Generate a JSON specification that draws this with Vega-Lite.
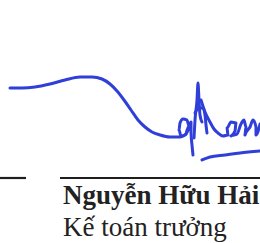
{
  "$schema": "https://vega.github.io/schema/vega-lite/v6.json",
  "width": 260,
  "height": 243,
  "padding": 0,
  "autosize": {"type": "none"},
  "background": "white",
  "config": {"view": {"stroke": null}},
  "datasets": {
    "sig": [
      {"s": "A", "i": 0, "x": 10, "y": 88}, {"s": "A", "i": 1, "x": 22, "y": 88}, {"s": "A", "i": 2, "x": 35, "y": 87},
      {"s": "A", "i": 3, "x": 50, "y": 84}, {"s": "A", "i": 4, "x": 65, "y": 80}, {"s": "A", "i": 5, "x": 80, "y": 77},
      {"s": "A", "i": 6, "x": 92, "y": 77}, {"s": "A", "i": 7, "x": 102, "y": 79}, {"s": "A", "i": 8, "x": 110, "y": 84},
      {"s": "A", "i": 9, "x": 117, "y": 91}, {"s": "A", "i": 10, "x": 124, "y": 100}, {"s": "A", "i": 11, "x": 131, "y": 110},
      {"s": "A", "i": 12, "x": 138, "y": 120}, {"s": "A", "i": 13, "x": 145, "y": 127}, {"s": "A", "i": 14, "x": 152, "y": 132},
      {"s": "A", "i": 15, "x": 160, "y": 135}, {"s": "A", "i": 16, "x": 170, "y": 137}, {"s": "A", "i": 17, "x": 180, "y": 137},
      {"s": "A", "i": 18, "x": 186, "y": 134},
      {"s": "B", "i": 0, "x": 186, "y": 134}, {"s": "B", "i": 1, "x": 189, "y": 126}, {"s": "B", "i": 2, "x": 187, "y": 120},
      {"s": "B", "i": 3, "x": 183, "y": 119}, {"s": "B", "i": 4, "x": 180, "y": 123}, {"s": "B", "i": 5, "x": 179, "y": 130},
      {"s": "B", "i": 6, "x": 181, "y": 136}, {"s": "B", "i": 7, "x": 185, "y": 135}, {"s": "B", "i": 8, "x": 189, "y": 128},
      {"s": "B", "i": 9, "x": 191, "y": 122}, {"s": "B", "i": 10, "x": 191, "y": 132}, {"s": "B", "i": 11, "x": 192, "y": 145},
      {"s": "B", "i": 12, "x": 193, "y": 155},
      {"s": "C", "i": 0, "x": 194, "y": 138}, {"s": "C", "i": 1, "x": 195, "y": 120}, {"s": "C", "i": 2, "x": 197, "y": 100},
      {"s": "C", "i": 3, "x": 198, "y": 83}, {"s": "C", "i": 4, "x": 199, "y": 100}, {"s": "C", "i": 5, "x": 200, "y": 115},
      {"s": "C", "i": 6, "x": 202, "y": 122},
      {"s": "D", "i": 0, "x": 195, "y": 113}, {"s": "D", "i": 1, "x": 199, "y": 108}, {"s": "D", "i": 2, "x": 203, "y": 108},
      {"s": "D", "i": 3, "x": 205, "y": 115}, {"s": "D", "i": 4, "x": 206, "y": 125}, {"s": "D", "i": 5, "x": 207, "y": 133},
      {"s": "E", "i": 0, "x": 201, "y": 100}, {"s": "E", "i": 1, "x": 205, "y": 112}, {"s": "E", "i": 2, "x": 210, "y": 122},
      {"s": "E", "i": 3, "x": 214, "y": 129}, {"s": "E", "i": 4, "x": 218, "y": 133}, {"s": "E", "i": 5, "x": 223, "y": 136},
      {"s": "E", "i": 6, "x": 228, "y": 135}, {"s": "E", "i": 7, "x": 227, "y": 128}, {"s": "E", "i": 8, "x": 231, "y": 122},
      {"s": "E", "i": 9, "x": 236, "y": 123}, {"s": "E", "i": 10, "x": 235, "y": 131}, {"s": "E", "i": 11, "x": 231, "y": 136},
      {"s": "E", "i": 12, "x": 237, "y": 134}, {"s": "E", "i": 13, "x": 241, "y": 124}, {"s": "E", "i": 14, "x": 244, "y": 120},
      {"s": "E", "i": 15, "x": 246, "y": 127}, {"s": "E", "i": 16, "x": 245, "y": 135}, {"s": "E", "i": 17, "x": 250, "y": 127},
      {"s": "E", "i": 18, "x": 253, "y": 120}, {"s": "E", "i": 19, "x": 256, "y": 127}, {"s": "E", "i": 20, "x": 256, "y": 135},
      {"s": "E", "i": 21, "x": 260, "y": 124},
      {"s": "F", "i": 0, "x": 202, "y": 160}, {"s": "F", "i": 1, "x": 210, "y": 157}, {"s": "F", "i": 2, "x": 225, "y": 155},
      {"s": "F", "i": 3, "x": 240, "y": 153}, {"s": "F", "i": 4, "x": 260, "y": 151}
    ],
    "rules": [
      {"x": 0, "x2": 26, "y": 178},
      {"x": 60, "x2": 262, "y": 178}
    ],
    "labels": [
      {"t": "Nguyễn Hữu Hải", "x": 63, "y": 204, "w": "name"},
      {"t": "Kế toán trưởng", "x": 63, "y": 236, "w": "title"}
    ]
  },
  "layer": [
    {
      "data": {"name": "sig"},
      "mark": {"type": "line", "color": "#2f3fd8", "strokeWidth": 3, "interpolate": "monotone", "strokeCap": "round", "strokeJoin": "round"},
      "encoding": {
        "x": {"field": "x", "type": "quantitative", "scale": {"domain": [0, 260], "nice": false, "zero": false}, "axis": null},
        "y": {"field": "y", "type": "quantitative", "scale": {"domain": [0, 243], "nice": false, "zero": false, "reverse": true}, "axis": null},
        "detail": {"field": "s"},
        "order": {"field": "i", "type": "quantitative"}
      }
    },
    {
      "data": {"name": "rules"},
      "mark": {"type": "rule", "color": "#1e1e1e", "strokeWidth": 2.2},
      "encoding": {
        "x": {"field": "x", "type": "quantitative"},
        "x2": {"field": "x2"},
        "y": {"field": "y", "type": "quantitative"}
      }
    },
    {
      "data": {"name": "labels"},
      "transform": [{"filter": "datum.w === 'name'"}],
      "mark": {"type": "text", "font": "Liberation Serif", "fontWeight": "bold", "fontSize": 27, "align": "left", "baseline": "alphabetic", "color": "#222222"},
      "encoding": {
        "x": {"field": "x", "type": "quantitative"},
        "y": {"field": "y", "type": "quantitative"},
        "text": {"field": "t"}
      }
    },
    {
      "data": {"name": "labels"},
      "transform": [{"filter": "datum.w === 'title'"}],
      "mark": {"type": "text", "font": "Liberation Serif", "fontSize": 27, "align": "left", "baseline": "alphabetic", "color": "#222222"},
      "encoding": {
        "x": {"field": "x", "type": "quantitative"},
        "y": {"field": "y", "type": "quantitative"},
        "text": {"field": "t"}
      }
    }
  ]
}
